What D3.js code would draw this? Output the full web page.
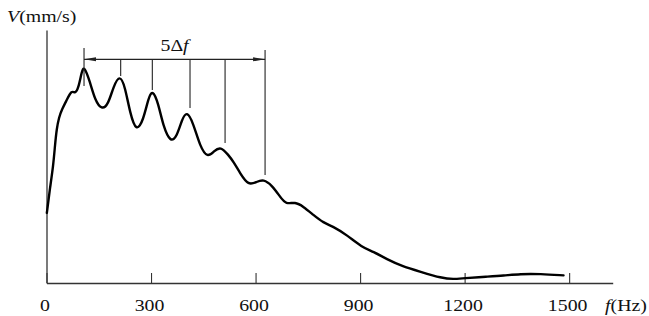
<!DOCTYPE html>
<html><head><meta charset="utf-8">
<script src="https://cdn.jsdelivr.net/npm/d3@7/dist/d3.min.js"></script>
<style>body{margin:0;background:#fff}svg{display:block}text{font-family:"Liberation Serif","Times New Roman",serif;fill:#111}</style>
</head><body><div id="chart"></div>
<script>
// Frequency (Hz) and velocity (relative units, axis top = 100)
const freq = [1,10,19.5,24.4,29.3,35.9,43.6,58,72.4,81.8,91.3,101,107.7,124.9,139.2,158.5,177.4,191.8,210.4,225.4,239.7,257.8,277.9,292.3,304.3,321,335.3,356,373.8,388.2,402.5,421.5,440.7,462.2,480.9,499.6,522,536.3,555.6,579.4,603.5,622.5,646.6,670.4,687.6,713.4,737.3,766,794.7,823.4,862,905,938.3,976.8,1019.8,1072.4,1134.6,1168,1196.7,1263.9,1311.5,1359.5,1416.9,1483.8];
const velocity = [27.7,37.5,46.5,54.5,61.0,65.5,68.4,72.3,76.3,74.8,76.8,83.5,86.0,79.5,72.3,68.4,70.6,77.6,82.5,77.6,67.2,59.5,64.4,73.0,76.6,71.0,61.8,55.5,57.8,64.4,68.2,63.1,53.9,49.4,52.2,54.0,50.6,48.0,43.4,38.5,40.0,41.0,38.7,34.1,31.0,32.1,30.2,26.9,23.8,22.3,19.0,14.1,12.4,9.4,6.7,4.5,1.9,1.5,1.9,2.5,2.9,3.6,3.6,3.0];
const xTicks = [0,300,600,900,1200,1500];
// 5Δf annotation: marker frequencies, line tops and bottoms (same units)
const markerFreq = [107.7,212.9,303.7,411.9,512.5,627.3];
const markerTop = [92.9,88.4,88.4,88.4,88.4,92.1];
const markerBottom = [77.9,81.8,76.3,69.2,55.3,42.7];
const bracketLevel = 88.4;
const annotLabel = "5Δ";

const W=649,H=316, SX=1.24;
const svg=d3.select("#chart").append("svg").attr("width",W).attr("height",H);
const x=d3.scaleLinear().domain([0,1625]).range([46.5,612.7]);
const y=d3.scaleLinear().domain([0,100]).range([283,30]);

// axes
const xAxis=d3.axisBottom(x).tickValues(xTicks).tickSizeInner(-10).tickSizeOuter(0).tickFormat("");
const gx=svg.append("g").attr("transform","translate(0,283)").call(xAxis);
gx.select(".domain").attr("stroke","#333").attr("stroke-width",1.3);
gx.selectAll(".tick line").attr("stroke","#333").attr("stroke-width",1.1);
const yAxis=d3.axisLeft(y).tickValues([]).tickSizeOuter(0);
const gy=svg.append("g").attr("transform","translate(46.5,0)").call(yAxis);
gy.select(".domain").attr("stroke","#333").attr("stroke-width",1.3);

// tick labels
xTicks.forEach(t=>{
  svg.append("text").attr("transform",`translate(${x(t)-1.5},311) scale(${SX},1)`)
    .attr("text-anchor","middle").attr("font-size",16).text(d3.format("d")(t));
});
// axis titles
const vt=svg.append("text").attr("transform",`translate(7,22) scale(${SX},1)`).attr("font-size",16);
vt.append("tspan").attr("font-style","italic").text("V");
vt.append("tspan").text("(mm/s)");
const ft=svg.append("text").attr("transform",`translate(605,311) scale(${SX},1)`).attr("font-size",16);
ft.append("tspan").attr("font-style","italic").text("f");
ft.append("tspan").text("(Hz)");

// curve
const data=freq.map((f,i)=>({f,v:velocity[i]}));
const line=d3.line().x(d=>x(d.f)).y(d=>y(d.v)).curve(d3.curveBasis);
svg.append("path").datum(data).attr("d",line).attr("fill","none").attr("stroke","#000").attr("stroke-width",2.4).attr("stroke-linejoin","round").attr("stroke-linecap","round");

// annotation
const g=svg.append("g").attr("stroke","#222").attr("stroke-width",1.1);
markerFreq.forEach((f,i)=>{
  g.append("line").attr("x1",x(f)).attr("x2",x(f)).attr("y1",y(markerTop[i])).attr("y2",y(markerBottom[i]));
});
const x0=x(markerFreq[0]), x1=x(markerFreq[markerFreq.length-1]), yb=y(bracketLevel);
g.append("line").attr("x1",x0).attr("x2",x1).attr("y1",yb).attr("y2",yb);
svg.append("path").attr("d",`M${x0},${yb}L${x0+12},${yb-2}L${x0+12},${yb+2}Z`).attr("fill","#222");
svg.append("path").attr("d",`M${x1},${yb}L${x1-12},${yb-2}L${x1-12},${yb+2}Z`).attr("fill","#222");
const at=svg.append("text").attr("transform",`translate(${(x0+x1)/2},50.5) scale(${SX},1)`).attr("text-anchor","middle").attr("font-size",16);
at.append("tspan").text(annotLabel);
at.append("tspan").attr("font-style","italic").text("f");
</script></body></html>
